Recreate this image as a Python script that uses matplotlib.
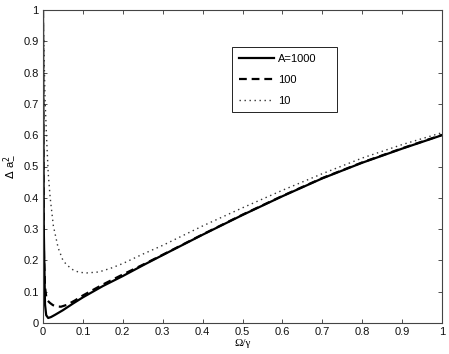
import matplotlib
matplotlib.use("Agg")
import matplotlib.pyplot as plt

plt.rcParams['font.family'] = ['Liberation Sans', 'DejaVu Sans']

# A = 1000 (solid)
w_1000 = [0.0, 0.002, 0.005, 0.008, 0.013, 0.02, 0.03, 0.05, 0.075, 0.1, 0.15, 0.2,
          0.25, 0.3, 0.4, 0.5, 0.6, 0.7, 0.8, 0.9, 1.0]
d_1000 = [1.0, 0.30, 0.06, 0.025, 0.016, 0.019, 0.026, 0.041, 0.062, 0.082, 0.118, 0.150,
          0.184, 0.217, 0.282, 0.345, 0.405, 0.462, 0.512, 0.557, 0.600]

# A = 100 (dashed)
w_100 = [0.0, 0.001, 0.0025, 0.005, 0.008, 0.012, 0.0175, 0.025, 0.035, 0.045, 0.06, 0.08,
         0.1, 0.15, 0.2, 0.25, 0.3, 0.4, 0.5, 0.6, 0.7, 0.8, 0.9, 1.0]
d_100 = [1.0, 0.45, 0.21, 0.116, 0.085, 0.071, 0.064, 0.057, 0.053, 0.052, 0.058, 0.072,
         0.088, 0.123, 0.155, 0.186, 0.218, 0.283, 0.346, 0.406, 0.463, 0.513, 0.558, 0.601]

# A = 10 (dotted)
w_10 = [0.0, 0.002, 0.005, 0.009, 0.013, 0.018, 0.026, 0.038, 0.05, 0.06, 0.075, 0.09,
        0.11, 0.14, 0.17, 0.2, 0.25, 0.3, 0.4, 0.5, 0.6, 0.7, 0.8, 0.9, 1.0]
d_10 = [1.0, 0.90, 0.72, 0.59, 0.48, 0.40, 0.31, 0.24, 0.20, 0.185, 0.17, 0.162,
        0.160, 0.163, 0.175, 0.190, 0.220, 0.248, 0.310, 0.368, 0.424, 0.477, 0.527, 0.570, 0.608]

labels = ['A=1000', '100', '10']
xticks = [0, 0.1, 0.2, 0.3, 0.4, 0.5, 0.6, 0.7, 0.8, 0.9, 1]
yticks = [0, 0.1, 0.2, 0.3, 0.4, 0.5, 0.6, 0.7, 0.8, 0.9, 1]

fig = plt.figure(figsize=(4.49, 3.54), dpi=100)
ax = fig.add_axes([43/449, 31/354, 399/449, 313/354])

ax.plot(w_1000, d_1000, color='black', lw=1.6, ls='-', label=labels[0])
ax.plot(w_100, d_100, color='black', lw=1.6, ls=(0, (3.5, 2.2)), label=labels[1])
ax.plot(w_10, d_10, color='#333333', lw=1.0, ls=(0, (1, 2.6)), label=labels[2])

ax.set_xlim(0, 1)
ax.set_ylim(0, 1)
ax.set_xticks(xticks)
ax.set_yticks(yticks)
ax.set_xticklabels([('%g' % t) for t in xticks])
ax.set_yticklabels([('%g' % t) for t in yticks])
ax.tick_params(direction='in', length=3, width=0.6, labelsize=8, top=True, right=True,
               color='#333333', pad=3, labelcolor='#111111')
for s in ax.spines.values():
    s.set_linewidth(0.8)
    s.set_color('#444444')

ax.set_xlabel('Ω/γ', fontsize=8, family=['Liberation Serif', 'DejaVu Serif'], labelpad=1)
ax.set_ylabel(r'$\Delta\ \mathregular{a}_{-}^{2}$', fontsize=8, labelpad=5)

leg = ax.legend(loc='upper left', bbox_to_anchor=(0.474, 0.687, 0.263, 0.195), mode='expand',
                fontsize=8, fancybox=False, edgecolor='black', framealpha=1, handlelength=3.2,
                labelspacing=1.0, borderpad=0.6, handletextpad=0.3, borderaxespad=0)
leg.get_frame().set_linewidth(0.6)

fig.savefig('out.png', dpi=100)
